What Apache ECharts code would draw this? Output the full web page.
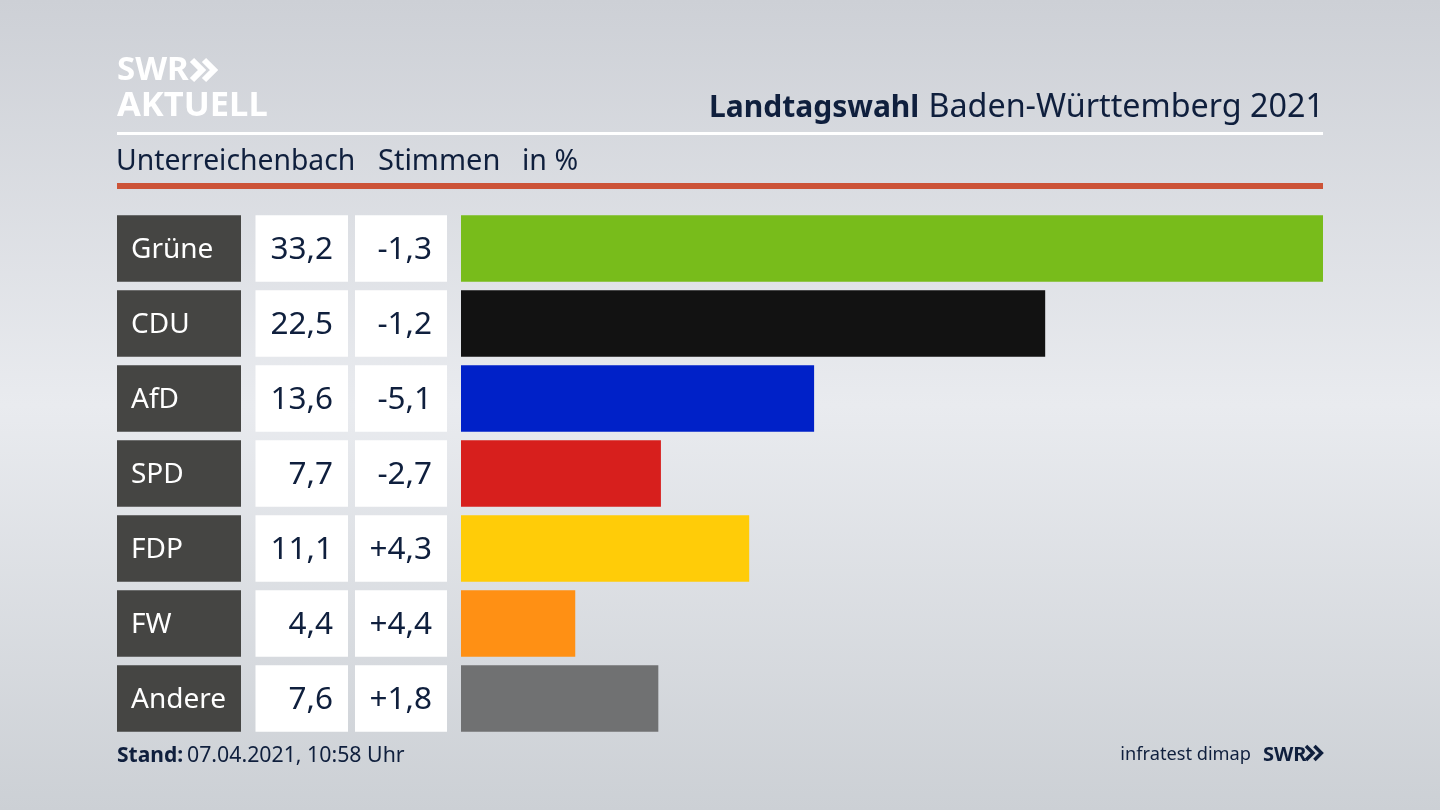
<!DOCTYPE html>
<html>
<head>
<meta charset="utf-8">
<style>
html, body { margin: 0; padding: 0; background: #d5d8de; }
#chart { width: 1440px; height: 810px; }
</style>
<script src="https://cdn.jsdelivr.net/npm/echarts@6/dist/echarts.min.js"></script>
</head>
<body>
<div id="chart"></div>
<script>
var parties = ['Grüne', 'CDU', 'AfD', 'SPD', 'FDP', 'FW', 'Andere'];
var shares = [33.2, 22.5, 13.6, 7.7, 11.1, 4.4, 7.6];
var changes = [-1.3, -1.2, -5.1, -2.7, 4.3, 4.4, 1.8];
var partyColors = ['#78bc1b', '#121212', '#0021c8', '#d71f1d', '#ffcc08', '#ff9014', '#707172'];

var navy = '#0f1f3d';
var fontName = '"Noto Sans"';
var rowHeight = 66.6;

var fmtShare = function (v) {
    return v.toFixed(1).replace('.', ',');
};
var fmtChange = function (v) {
    return (v > 0 ? '+' : '-') + Math.abs(v).toFixed(1).replace('.', ',');
};

// left columns sit on the same category axis as the bars
var renderCells = function (params, api) {
    var i = api.value(1);
    var yc = api.coord([0, i])[1];
    var top = yc - rowHeight / 2;
    var txt = function (x, s, color, align, size) {
        return {
            type: 'text',
            style: { x: x, y: yc + 2, text: s, fill: color, align: align, verticalAlign: 'middle', font: size + 'px ' + fontName }
        };
    };
    return {
        type: 'group',
        children: [
            { type: 'rect', shape: { x: 117, y: top, width: 124, height: rowHeight }, style: { fill: '#454543' } },
            { type: 'rect', shape: { x: 255.5, y: top, width: 92.5, height: rowHeight }, style: { fill: '#ffffff' } },
            { type: 'rect', shape: { x: 355, y: top, width: 92, height: rowHeight }, style: { fill: '#ffffff' } },
            txt(131, parties[i], '#ffffff', 'left', 28),
            txt(333, fmtShare(shares[i]), navy, 'right', 31.5),
            txt(432, fmtChange(changes[i]), navy, 'right', 31.5)
        ]
    };
};

var chevrons = function (x, y, h, color, lw) {
    var list = [];
    for (var k = 0; k < 2; k++) {
        list.push({
            type: 'polyline',
            shape: { points: [[x + k * h * 0.6, y], [x + k * h * 0.6 + h * 0.5, y + h / 2], [x + k * h * 0.6, y + h]] },
            style: { stroke: color, lineWidth: lw, fill: 'none' }
        });
    }
    return list;
};

var myChart = echarts.init(document.getElementById('chart'));
var option = {
    animation: false,
    backgroundColor: {
        type: 'linear', x: 0, y: 0, x2: 0, y2: 1,
        colorStops: [
            { offset: 0, color: '#cdd0d6' },
            { offset: 0.5, color: '#e9ebef' },
            { offset: 1, color: '#ccd0d5' }
        ]
    },
    grid: { left: 461, top: 211, width: 862, height: 525 },
    xAxis: { type: 'value', min: 0, max: 33.2, show: false },
    yAxis: { type: 'category', inverse: true, data: parties, show: false },
    series: [
        {
            type: 'bar',
            barWidth: rowHeight,
            data: shares.map(function (v, i) {
                return { value: v, itemStyle: { color: partyColors[i] } };
            })
        },
        {
            type: 'custom',
            renderItem: renderCells,
            encode: { x: 0, y: 1 },
            data: parties.map(function (p, i) { return [0, i]; })
        }
    ],
    graphic: [
        { type: 'rect', shape: { x: 117, y: 132, width: 1206, height: 3 }, style: { fill: '#ffffff' } },
        { type: 'rect', shape: { x: 117, y: 183, width: 1206, height: 6 }, style: { fill: '#cc5337' } },
        { type: 'text', style: { x: 116, y: 162, text: 'Unterreichenbach', fill: navy, verticalAlign: 'middle', font: '28.3px ' + fontName } },
        { type: 'text', style: { x: 378, y: 162, text: 'Stimmen', fill: navy, verticalAlign: 'middle', font: '29px ' + fontName } },
        { type: 'text', style: { x: 522, y: 162, text: 'in %', fill: navy, verticalAlign: 'middle', font: '28.5px ' + fontName } },
        { type: 'text', style: { x: 709, y: 108, text: 'Landtagswahl', fill: navy, verticalAlign: 'middle', font: 'bold 30px ' + fontName } },
        { type: 'text', style: { x: 1324, y: 108, align: 'right', text: 'Baden-Württemberg 2021', fill: navy, verticalAlign: 'middle', font: '32.3px ' + fontName } },
        { type: 'text', style: { x: 117, y: 71, text: 'SWR', fill: '#ffffff', verticalAlign: 'middle', font: 'bold 33px ' + fontName } },
        { type: 'text', style: { x: 117, y: 106, text: 'AKTUELL', fill: '#ffffff', verticalAlign: 'middle', font: 'bold 34.5px ' + fontName } },
        { type: 'text', style: { x: 117, y: 756, text: 'Stand:', fill: navy, verticalAlign: 'middle', font: 'bold 21px ' + fontName } },
        { type: 'text', style: { x: 187, y: 756, text: '07.04.2021, 10:58 Uhr', fill: navy, verticalAlign: 'middle', font: '21.3px ' + fontName } },
        { type: 'text', style: { x: 1251, y: 755, align: 'right', text: 'infratest dimap', fill: navy, verticalAlign: 'middle', font: '18.2px ' + fontName } },
        { type: 'text', style: { x: 1263, y: 755, text: 'SWR', fill: navy, verticalAlign: 'middle', font: 'bold 20px ' + fontName } }
    ].concat(chevrons(192, 60, 20, '#ffffff', 6), chevrons(1306, 746, 14, navy, 3.5))
};
myChart.setOption(option);
</script>
</body>
</html>
